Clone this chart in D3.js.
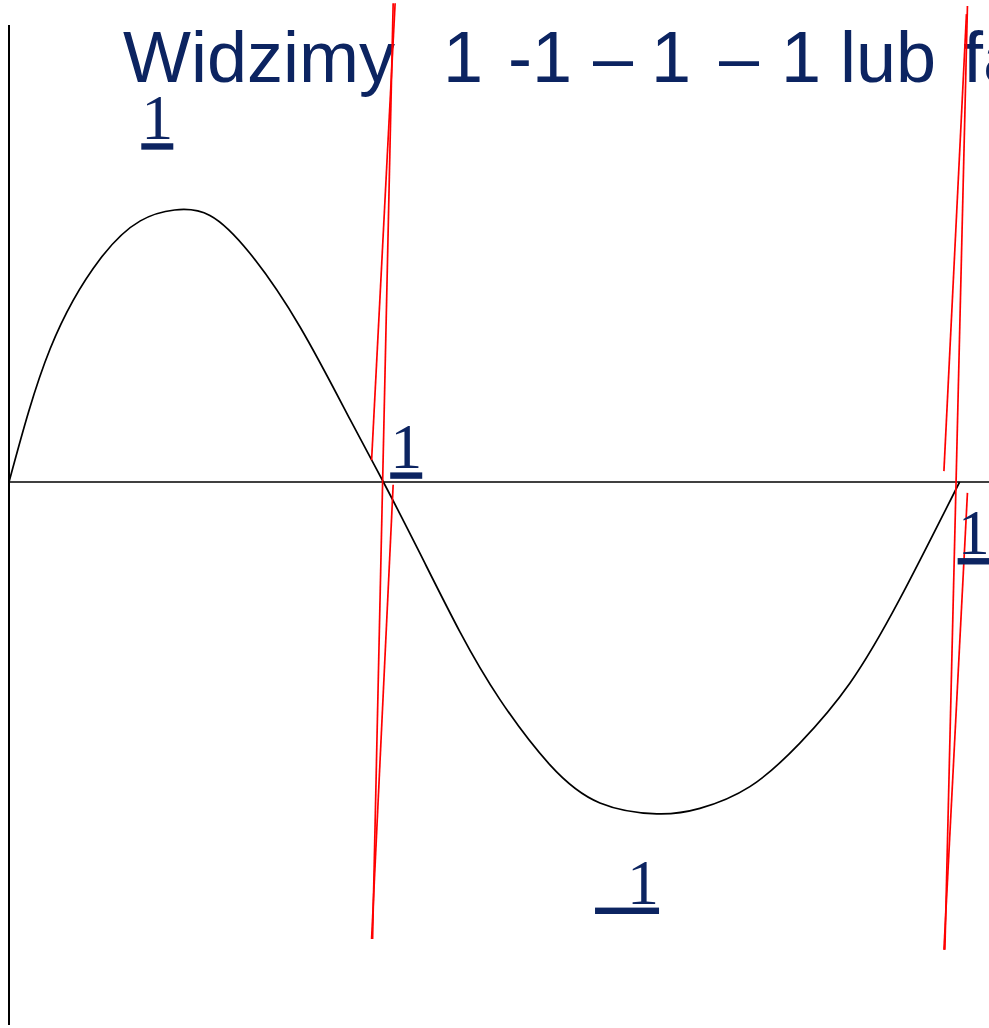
<!DOCTYPE html>
<html>
<head>
<meta charset="utf-8">
<script src="https://cdn.jsdelivr.net/npm/d3@7"></script>
<style>
  body { margin: 0; background: #fff; }
  svg { display: block; }
</style>
</head>
<body>
<script>
// size of the page
var w = 989;
var h = 1028;

// curve samples (t along the axis, v = height, peak = 1)
var curveT = [0, 0.42, 0.93, 1.34, 1.69, 2.05, 2.46, 2.97, 3.48, 3.82, 4.19, 4.60, 5.01, 5.52, 6.03, 6.61, 7.05, 7.56, 8.07, 8.58, 9.09, 9.70];
var curveV = [0, 0.49, 0.82, 0.96, 1, 0.98, 0.84, 0.57, 0.23, 0, -0.26, -0.55, -0.80, -1.04, -1.18, -1.22, -1.20, -1.12, -0.96, -0.74, -0.43, 0];

// red lines: [t1, v1, t2, v2]
var redLines = [
    [3.94, 1.76, 3.70, 0.08],
    [3.92, 1.76, 3.71, -1.68],
    [3.92, -0.01, 3.70, -1.68],
    [9.77, 1.72, 9.54, 0.04],
    [9.78, 1.75, 9.55, -1.72],
    [9.78, -0.04, 9.54, -1.72]
];

// underlined labels
var labelText = ["1", "1", "1", "\u00a0\u00a01"];
var labelT = [1.35, 3.89, 9.68, 5.98];
var labelV = [1.26, 0.05, -0.265, -1.55];

// title words and where each one starts
var titleWords = ["Widzimy", "1", "-1", "\u2013", "1", "\u2013", "1", "lub", "fa"];
var titleX = [123, 443, 508, 593, 651, 719, 781, 840, 963];

var x = d3.scaleLinear().domain([0, 10]).range([9, 989]);
var y = d3.scaleLinear().domain([-1, 1]).range([754, 210]);

var svg = d3.select("body").append("svg")
    .attr("width", w)
    .attr("height", h);

// title line of the slide
var title = svg.append("text")
    .attr("y", 82)
    .attr("font-family", "Liberation Sans, Arial, sans-serif")
    .attr("font-size", 72)
    .attr("fill", "#0c2461");

title.selectAll("tspan").data(titleWords).enter().append("tspan")
    .attr("x", function (d, i) { return titleX[i]; })
    .text(function (d) { return d; });

// axes
svg.append("line")
    .attr("x1", x(0)).attr("x2", x(0))
    .attr("y1", 25).attr("y2", 1025)
    .attr("stroke", "black").attr("stroke-width", 2);

svg.append("line")
    .attr("x1", x(0)).attr("x2", w)
    .attr("y1", y(0)).attr("y2", y(0))
    .attr("stroke", "black").attr("stroke-width", 1.5);

// the curve
var line = d3.line()
    .x(function (d, i) { return x(curveT[i]); })
    .y(function (d, i) { return y(curveV[i]); })
    .curve(d3.curveNatural);

svg.append("path")
    .attr("d", line(curveT))
    .attr("fill", "none")
    .attr("stroke", "black")
    .attr("stroke-width", 1.7);

// red lines
svg.selectAll("line.red").data(redLines).enter().append("line")
    .attr("class", "red")
    .attr("x1", function (d) { return x(d[0]); })
    .attr("y1", function (d) { return y(d[1]); })
    .attr("x2", function (d) { return x(d[2]); })
    .attr("y2", function (d) { return y(d[3]); })
    .attr("stroke", "red")
    .attr("stroke-width", 1.7);

// labels
svg.selectAll("text.lab").data(labelText).enter().append("text")
    .attr("class", "lab")
    .attr("x", function (d, i) { return x(labelT[i]); })
    .attr("y", function (d, i) { return y(labelV[i]); })
    .attr("font-family", "Liberation Serif, Times New Roman, serif")
    .attr("font-size", 64)
    .attr("fill", "#0c2461")
    .style("text-decoration", "underline")
    .text(function (d) { return d; });
</script>
</body>
</html>
